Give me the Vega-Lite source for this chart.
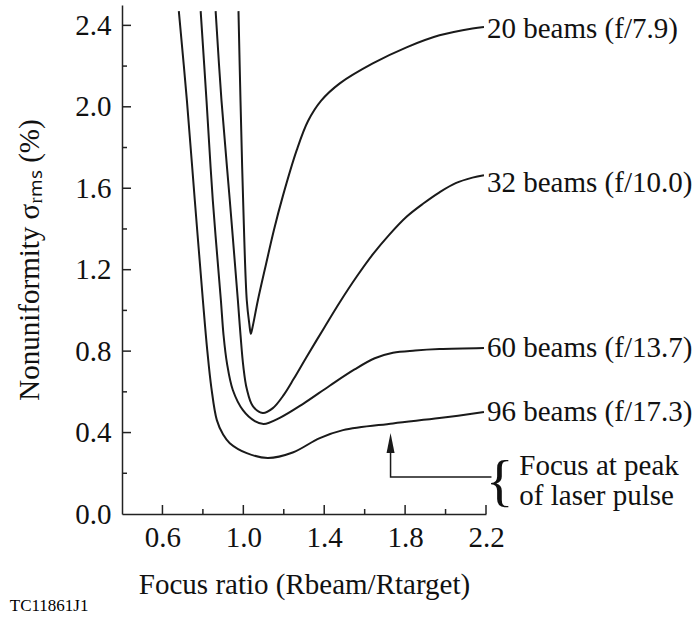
{
  "$schema": "https://vega.github.io/schema/vega-lite/v6.json",
  "width": 364,
  "height": 509,
  "autosize": {"type": "none"},
  "padding": {"left": 122, "top": 5, "right": 213, "bottom": 105},
  "background": "white",
  "title": {"text": "TC11861J1", "orient": "bottom", "anchor": "start", "font": "Liberation Serif", "fontSize": 17, "fontWeight": "normal", "color": "black", "offset": -1, "dx": -6},
  "config": {
    "view": {"stroke": null, "fill": null},
    "axis": {
      "grid": false,
      "ticks": true,
      "domainColor": "#222",
      "domainWidth": 1.5,
      "tickColor": "#222",
      "tickWidth": 1.5,
      "labelFont": "Liberation Serif",
      "labelFontSize": 29,
      "labelColor": "#111",
      "titleFont": "Liberation Serif",
      "titleFontSize": 29,
      "titleFontWeight": "normal",
      "titleColor": "#111"
    },
    "text": {"font": "Liberation Serif", "fontSize": 29, "color": "#111"}
  },
  "datasets": {
    "curves": [
      {"beams": "20", "x": 0.976, "y": 2.47},
      {"beams": "20", "x": 0.986, "y": 2.03},
      {"beams": "20", "x": 0.999, "y": 1.54},
      {"beams": "20", "x": 1.017, "y": 1.05},
      {"beams": "20", "x": 1.03, "y": 0.93},
      {"beams": "20", "x": 1.037, "y": 0.885},
      {"beams": "20", "x": 1.045, "y": 0.915},
      {"beams": "20", "x": 1.072, "y": 1.05},
      {"beams": "20", "x": 1.111, "y": 1.222},
      {"beams": "20", "x": 1.151, "y": 1.394},
      {"beams": "20", "x": 1.195, "y": 1.56},
      {"beams": "20", "x": 1.264, "y": 1.787},
      {"beams": "20", "x": 1.32, "y": 1.93},
      {"beams": "20", "x": 1.385, "y": 2.03},
      {"beams": "20", "x": 1.477, "y": 2.115},
      {"beams": "20", "x": 1.64, "y": 2.213},
      {"beams": "20", "x": 1.807, "y": 2.292},
      {"beams": "20", "x": 1.97, "y": 2.351},
      {"beams": "20", "x": 2.133, "y": 2.385},
      {"beams": "20", "x": 2.19, "y": 2.392},
      {"beams": "32", "x": 0.863, "y": 2.47},
      {"beams": "32", "x": 0.892, "y": 2.03},
      {"beams": "32", "x": 0.933, "y": 1.541},
      {"beams": "32", "x": 0.973, "y": 1.05},
      {"beams": "32", "x": 0.986, "y": 0.88},
      {"beams": "32", "x": 1.0, "y": 0.725},
      {"beams": "32", "x": 1.017, "y": 0.615},
      {"beams": "32", "x": 1.047, "y": 0.53},
      {"beams": "32", "x": 1.096, "y": 0.496},
      {"beams": "32", "x": 1.146, "y": 0.52},
      {"beams": "32", "x": 1.2, "y": 0.585},
      {"beams": "32", "x": 1.25, "y": 0.665},
      {"beams": "32", "x": 1.312, "y": 0.77},
      {"beams": "32", "x": 1.4, "y": 0.915},
      {"beams": "32", "x": 1.477, "y": 1.04},
      {"beams": "32", "x": 1.56, "y": 1.165},
      {"beams": "32", "x": 1.64, "y": 1.275},
      {"beams": "32", "x": 1.72, "y": 1.37},
      {"beams": "32", "x": 1.807, "y": 1.46},
      {"beams": "32", "x": 1.89, "y": 1.525},
      {"beams": "32", "x": 1.97, "y": 1.58},
      {"beams": "32", "x": 2.05, "y": 1.625},
      {"beams": "32", "x": 2.133, "y": 1.652},
      {"beams": "32", "x": 2.19, "y": 1.664},
      {"beams": "60", "x": 0.789, "y": 2.47},
      {"beams": "60", "x": 0.818, "y": 2.03},
      {"beams": "60", "x": 0.849, "y": 1.541},
      {"beams": "60", "x": 0.889, "y": 1.05},
      {"beams": "60", "x": 0.902, "y": 0.88},
      {"beams": "60", "x": 0.919, "y": 0.741},
      {"beams": "60", "x": 0.948, "y": 0.609},
      {"beams": "60", "x": 0.998, "y": 0.51},
      {"beams": "60", "x": 1.057, "y": 0.456},
      {"beams": "60", "x": 1.101, "y": 0.442},
      {"beams": "60", "x": 1.18, "y": 0.472},
      {"beams": "60", "x": 1.294, "y": 0.54},
      {"beams": "60", "x": 1.427, "y": 0.63},
      {"beams": "60", "x": 1.55, "y": 0.71},
      {"beams": "60", "x": 1.65, "y": 0.765},
      {"beams": "60", "x": 1.74, "y": 0.792},
      {"beams": "60", "x": 1.85, "y": 0.803},
      {"beams": "60", "x": 1.97, "y": 0.81},
      {"beams": "60", "x": 2.19, "y": 0.815},
      {"beams": "96", "x": 0.681, "y": 2.47},
      {"beams": "96", "x": 0.721, "y": 2.03},
      {"beams": "96", "x": 0.76, "y": 1.541},
      {"beams": "96", "x": 0.8, "y": 1.05},
      {"beams": "96", "x": 0.822, "y": 0.8},
      {"beams": "96", "x": 0.842, "y": 0.62},
      {"beams": "96", "x": 0.869, "y": 0.461},
      {"beams": "96", "x": 0.9, "y": 0.39},
      {"beams": "96", "x": 0.933, "y": 0.348},
      {"beams": "96", "x": 1.017, "y": 0.299},
      {"beams": "96", "x": 1.121, "y": 0.275},
      {"beams": "96", "x": 1.244, "y": 0.302},
      {"beams": "96", "x": 1.378, "y": 0.373},
      {"beams": "96", "x": 1.493, "y": 0.412},
      {"beams": "96", "x": 1.74, "y": 0.445},
      {"beams": "96", "x": 1.97, "y": 0.471},
      {"beams": "96", "x": 2.19, "y": 0.501}
    ],
    "labels": [
      {"label": "20 beams (f/7.9)", "x": 2.2, "y": 2.384},
      {"label": "32 beams (f/10.0)", "x": 2.2, "y": 1.625},
      {"label": "60 beams (f/13.7)", "x": 2.2, "y": 0.815},
      {"label": "96 beams (f/17.3)", "x": 2.2, "y": 0.5}
    ],
    "xmajor": [{"x": 0.6}, {"x": 1.0}, {"x": 1.4}, {"x": 1.8}, {"x": 2.2}],
    "xminor": [{"x": 0.8}, {"x": 1.2}, {"x": 1.6}, {"x": 2.0}],
    "ymajor": [{"y": 0.4}, {"y": 0.8}, {"y": 1.2}, {"y": 1.6}, {"y": 2.0}, {"y": 2.4}],
    "yminor": [{"y": 0.2}, {"y": 0.6}, {"y": 1.0}, {"y": 1.4}, {"y": 1.8}, {"y": 2.2}],
    "arrow": [
      {"x": 2.227, "y": 0.182, "o": 1},
      {"x": 1.728, "y": 0.182, "o": 2},
      {"x": 1.728, "y": 0.34, "o": 3}
    ],
    "arrowhead": [{"x": 1.728, "y": 0.398}],
    "brace": [{"x": 2.267, "y": 0.152, "t": "{"}],
    "notes": [
      {"t": "Focus at peak", "x": 2.365, "y": 0.236},
      {"t": "of laser pulse", "x": 2.365, "y": 0.086}
    ]
  },
  "layer": [
    {
      "data": {"name": "curves"},
      "mark": {"type": "line", "color": "#1a1a1a", "strokeWidth": 2, "interpolate": "catmull-rom"},
      "encoding": {
        "x": {
          "field": "x",
          "type": "quantitative",
          "scale": {"domain": [0.4, 2.2], "nice": false, "zero": false},
          "axis": {
            "values": [0.6, 1.0, 1.4, 1.8, 2.2],
            "tickSize": 0,
            "format": ".1f",
            "labelPadding": 9,
            "labelFlush": false,
            "titlePadding": 18,
            "title": "Focus ratio (Rbeam/Rtarget)"
          }
        },
        "y": {
          "field": "y",
          "type": "quantitative",
          "scale": {"domain": [0, 2.5], "nice": false, "zero": false},
          "axis": {
            "values": [0, 0.4, 0.8, 1.2, 1.6, 2.0, 2.4],
            "tickSize": 0,
            "format": ".1f",
            "labelPadding": 11,
            "labelFlush": false,
            "titlePadding": 30,
            "title": "Nonuniformity σᵣₘₛ (%)"
          }
        },
        "detail": {"field": "beams"}
      }
    },
    {
      "data": {"name": "xmajor"},
      "mark": {"type": "tick", "orient": "vertical", "size": 9, "thickness": 1.5, "color": "#222", "opacity": 1, "yOffset": -4.5},
      "encoding": {"x": {"field": "x", "type": "quantitative"}, "y": {"datum": 0, "type": "quantitative"}}
    },
    {
      "data": {"name": "xminor"},
      "mark": {"type": "tick", "orient": "vertical", "size": 5, "thickness": 1.5, "color": "#222", "opacity": 1, "yOffset": -2.5},
      "encoding": {"x": {"field": "x", "type": "quantitative"}, "y": {"datum": 0, "type": "quantitative"}}
    },
    {
      "data": {"name": "ymajor"},
      "mark": {"type": "tick", "orient": "horizontal", "size": 9, "thickness": 1.5, "color": "#222", "opacity": 1, "xOffset": 4.5},
      "encoding": {"y": {"field": "y", "type": "quantitative"}, "x": {"datum": 0.4, "type": "quantitative"}}
    },
    {
      "data": {"name": "yminor"},
      "mark": {"type": "tick", "orient": "horizontal", "size": 5, "thickness": 1.5, "color": "#222", "opacity": 1, "xOffset": 2.5},
      "encoding": {"y": {"field": "y", "type": "quantitative"}, "x": {"datum": 0.4, "type": "quantitative"}}
    },
    {
      "data": {"name": "arrowhead"},
      "mark": {"type": "point", "shape": "M0,0L0.4,2L-0.4,2Z", "size": 400, "filled": true, "color": "#1a1a1a", "opacity": 1, "strokeWidth": 0},
      "encoding": {"x": {"field": "x", "type": "quantitative"}, "y": {"field": "y", "type": "quantitative"}}
    },
    {
      "data": {"name": "labels"},
      "mark": {"type": "text", "align": "left", "baseline": "middle", "dx": 1},
      "encoding": {"x": {"field": "x", "type": "quantitative"}, "y": {"field": "y", "type": "quantitative"}, "text": {"field": "label"}}
    },
    {
      "data": {"name": "arrow"},
      "mark": {"type": "line", "color": "#1a1a1a", "strokeWidth": 1.5},
      "encoding": {"x": {"field": "x", "type": "quantitative"}, "y": {"field": "y", "type": "quantitative"}, "order": {"field": "o"}}
    },
    {
      "data": {"name": "brace"},
      "mark": {"type": "text", "align": "center", "baseline": "middle", "fontSize": 58},
      "encoding": {"x": {"field": "x", "type": "quantitative"}, "y": {"field": "y", "type": "quantitative"}, "text": {"field": "t"}}
    },
    {
      "data": {"name": "notes"},
      "mark": {"type": "text", "align": "left", "baseline": "middle"},
      "encoding": {"x": {"field": "x", "type": "quantitative"}, "y": {"field": "y", "type": "quantitative"}, "text": {"field": "t"}}
    }
  ]
}
